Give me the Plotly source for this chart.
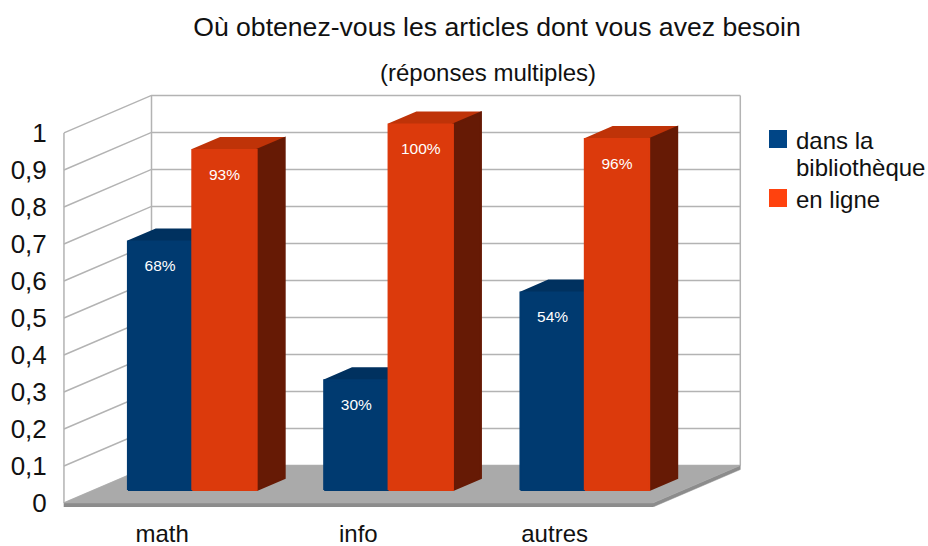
"""
Où obtenez-vous les articles : oblique 3D bars drawn on a plain cartesian plot
"""

import plotly.graph_objects as go

categories = ['math', 'info', 'autres']
bibliotheque = [0.68, 0.30, 0.54]
en_ligne = [0.93, 1.00, 0.96]
bibliotheque_labels = ['68%', '30%', '54%']
en_ligne_labels = ['93%', '100%', '96%']
y_ticks = [0, 0.1, 0.2, 0.3, 0.4, 0.5, 0.6, 0.7, 0.8, 0.9, 1]
legend_lines = ['dans la', 'bibliothèque', 'en ligne']

# oblique projection: going to the back wall moves right and up
DEPTH_X = 0.446
DEPTH_Y = 0.1014
BAR_WIDTH = 0.328
BAR_FRONT = 0.345
BAR_BACK = 0.665
# the source is slightly in perspective, bars come out a bit shorter than the wall scale
BAR_SCALE = 0.988


def project(x, y, depth):
    return x + depth * DEPTH_X, y + depth * DEPTH_Y


def polygon(points, color, line_color=None, width=2):
    xs = [p[0] for p in points] + [points[0][0]]
    ys = [p[1] for p in points] + [points[0][1]]
    return go.Scatter(
        x=xs, y=ys, mode='lines', fill='toself', fillcolor=color,
        line=dict(color=line_color or color, width=width),
        hoverinfo='skip', showlegend=False
    )


def wire(points, color='#b3b3b3', width=1.5):
    return go.Scatter(
        x=[p[0] for p in points], y=[p[1] for p in points], mode='lines',
        line=dict(color=color, width=width), hoverinfo='skip', showlegend=False
    )


def add_bar(fig, left, value, front, side, top):
    right = left + BAR_WIDTH
    height = value * BAR_SCALE
    corners = lambda x, y: (project(x, y, BAR_FRONT), project(x, y, BAR_BACK))
    (fl_b, bl_b), (fr_b, br_b) = corners(left, 0), corners(right, 0)
    (fl_t, bl_t), (fr_t, br_t) = corners(left, height), corners(right, height)
    fig.add_trace(polygon([fl_t, bl_t, br_t, fr_t], top))
    fig.add_trace(polygon([fr_b, br_b, br_t, fr_t], side))
    fig.add_trace(polygon([fl_b, fr_b, fr_t, fl_t], front))


fig = go.Figure()
n = len(categories)

# walls
for tick in y_ticks:
    fig.add_trace(wire([(0, tick), project(0, tick, 1), project(n, tick, 1)]))
fig.add_trace(wire([(0, 0), (0, 1)]))
fig.add_trace(wire([project(0, 0, 1), project(0, 1, 1)]))
fig.add_trace(wire([project(n, 0, 1), project(n, 1, 1)]))

# floor slab
slab = -0.011
fig.add_trace(polygon([
    (0, slab), (n, slab), project(n, slab, 1), project(n, 0, 1), (n, 0), (0, 0)
], '#8c8c8c', width=0.5))
fig.add_trace(polygon([(0, 0), (n, 0), project(n, 0, 1), project(0, 0, 1)], '#aaaaaa', width=0.5))

# bars, painted left to right so nearer faces cover hidden ones
label_x, label_y, label_text = [], [], []
for i in range(n):
    left_a = i + 0.5 - BAR_WIDTH
    left_b = i + 0.5
    add_bar(fig, left_a, bibliotheque[i], '#003a70', '#002a52', '#00315f')
    add_bar(fig, left_b, en_ligne[i], '#dc3a0c', '#661a05', '#bf3308')
    for left, value, text in ((left_a, bibliotheque[i], bibliotheque_labels[i]),
                              (left_b, en_ligne[i], en_ligne_labels[i])):
        px_, py_ = project(left + BAR_WIDTH / 2, value * BAR_SCALE - 0.07, BAR_FRONT)
        label_x.append(px_)
        label_y.append(py_)
        label_text.append(text)

fig.add_trace(go.Scatter(
    x=label_x, y=label_y, text=label_text, mode='text',
    textfont=dict(color='white', size=15.5), hoverinfo='skip', showlegend=False
))

# legend is laid out by hand, the line spacing is tighter than plotly's own legend
W, H = 928, 546
annotations = [dict(
    text='(réponses multiples)', xref='paper', yref='paper',
    x=(488 - 62) / (W - 62 - 183), y=(H - 39 - 72) / (H - 39 - 90),
    xanchor='center', yanchor='middle', showarrow=False,
    font=dict(size=24)
)]
for line, y_px in zip(legend_lines, [140, 168, 199]):
    annotations.append(dict(
        text=line, xref='paper', yref='paper',
        x=(797 - 62) / (W - 62 - 183), y=(H - 39 - y_px) / (H - 39 - 90),
        xanchor='left', yanchor='middle', showarrow=False, borderpad=0, borderwidth=0,
        xshift=-1, font=dict(size=24)
    ))

shapes = []
for color, top_px in zip(['#004586', '#ff420e'], [130, 189]):
    shapes.append(dict(
        type='rect', xref='paper', yref='paper', line_width=0, fillcolor=color,
        x0=(769 - 62) / (W - 62 - 183), x1=(787 - 62) / (W - 62 - 183),
        y0=(H - 39 - top_px) / (H - 39 - 90), y1=(H - 39 - top_px - 18) / (H - 39 - 90)
    ))

fig.update_layout(
    width=W, height=H,
    margin=dict(l=62, r=183, t=90, b=39),
    paper_bgcolor='white', plot_bgcolor='white',
    font=dict(family='Liberation Sans', size=24, color='#111111'),
    showlegend=False,
    title=dict(
        text='Où obtenez-vous les articles dont vous avez besoin',
        x=497 / W, xanchor='center', y=1 - 27 / H, yanchor='middle',
        font=dict(size=26.6)
    ),
    annotations=annotations,
    shapes=shapes
)
fig.update_xaxes(
    range=[-0.01, 3.47], tickmode='array', tickvals=[0.5, 1.5, 2.5], ticktext=categories,
    showgrid=False, zeroline=False, showline=False, automargin=False,
    ticks='outside', ticklen=5, tickcolor='rgba(0,0,0,0)'
)
fig.update_yaxes(
    range=[-0.0108, 1.116], tickmode='array', tickvals=y_ticks,
    ticktext=[str(t).replace('.', ',') for t in y_ticks], tickfont=dict(size=26),
    showgrid=False, zeroline=False, showline=False, automargin=False,
    ticks='outside', ticklen=9, tickcolor='rgba(0,0,0,0)'
)

# the page's default body margin would push the figure 8px in
fig.write_html("out.html", config={'displayModeBar': False},
               post_script="document.body.style.margin='0';")
